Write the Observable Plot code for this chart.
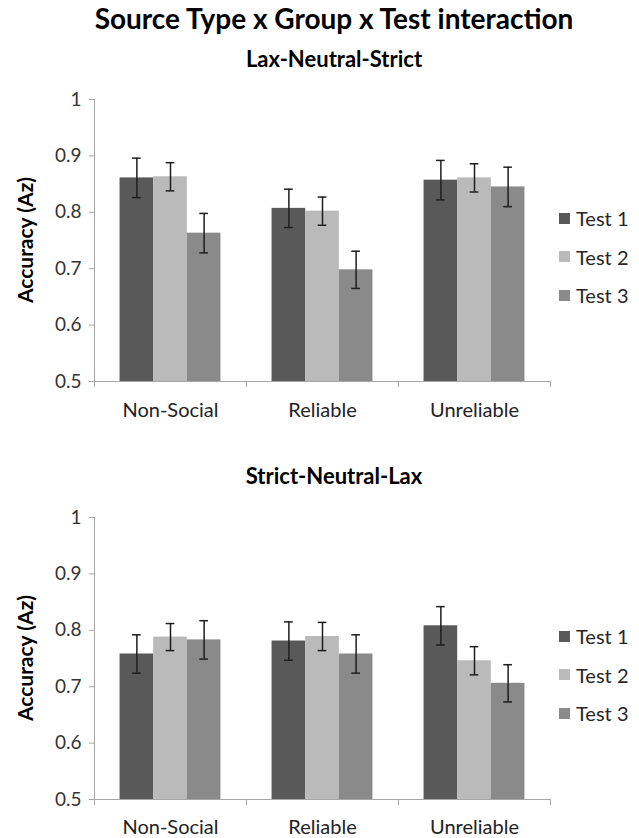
<!DOCTYPE html>
<html>
<head>
<meta charset="utf-8">
<script src="https://cdn.jsdelivr.net/npm/d3@7"></script>
<script src="https://cdn.jsdelivr.net/npm/@observablehq/plot@0.6"></script>
<style>
  body { margin: 0; background: #fff; font-family: Lato, "DejaVu Sans", sans-serif; }
  #root { position: relative; width: 639px; height: 838px; overflow: hidden; background: #fff; }
  .abs { position: absolute; white-space: nowrap; }
  .title { font-weight: bold; font-size: 28px; color: #000; line-height: 1; text-align: center; }
  .sub { font-weight: bold; font-size: 22px; color: #000; line-height: 1; text-align: center; }
  .ylab { font-weight: bold; font-size: 21px; color: #000; line-height: 1; transform: translate(-50%, -50%) rotate(-90deg); }
  .leg { font-size: 20px; color: #262626; line-height: 1; display: flex; align-items: center; }
  .sw { width: 11px; height: 11px; margin-right: 6px; }
  svg { position: absolute; left: 0; }
</style>
</head>
<body>
<div id="root"></div>
<script>
// ---- data ----
const chartTitle = "Source Type x Group x Test interaction";
const panelTitles = ["Lax-Neutral-Strict", "Strict-Neutral-Lax"];
const yLabel = "Accuracy (Az)";
const categories = ["Non-Social", "Reliable", "Unreliable"];
const tests = ["Test 1", "Test 2", "Test 3"];
const testColors = ["#595959", "#bababa", "#8a8a8a"];
const yTicks = [0.5, 0.6, 0.7, 0.8, 0.9, 1];

// rows: categories, columns: tests
const laxNeutralStrictMeans = [
  [0.861, 0.863, 0.763],
  [0.807, 0.802, 0.698],
  [0.857, 0.861, 0.845]
];
const laxNeutralStrictErrors = [
  [0.035, 0.025, 0.035],
  [0.034, 0.025, 0.033],
  [0.035, 0.025, 0.035]
];
const strictNeutralLaxMeans = [
  [0.758, 0.788, 0.783],
  [0.781, 0.789, 0.758],
  [0.808, 0.746, 0.706]
];
const strictNeutralLaxErrors = [
  [0.034, 0.024, 0.034],
  [0.034, 0.025, 0.034],
  [0.034, 0.025, 0.033]
];

// ---- drawing ----
const root = document.getElementById("root");

function addDiv(cls, text, style) {
  const d = document.createElement("div");
  d.className = "abs " + cls;
  d.textContent = text;
  Object.assign(d.style, style);
  root.appendChild(d);
  return d;
}

function makePanel(means, errors, top, title, titleTop, labelPad) {
  const rows = [];
  categories.forEach((c, i) => tests.forEach((t, j) => {
    rows.push({cat: c, test: t, mean: means[i][j], err: errors[i][j]});
  }));
  const yMin = yTicks[0], yMax = yTicks[yTicks.length - 1];
  const axisGray = "#a6a6a6";
  const chart = Plot.plot({
    width: 639,
    height: 345,
    marginTop: 19,
    marginBottom: 44,
    marginLeft: 93,
    marginRight: 89,
    style: {fontFamily: "Lato, sans-serif", background: "transparent", overflow: "visible"},
    fx: {domain: categories, padding: 0, label: null},
    x: {domain: tests, paddingInner: 0, paddingOuter: 0.76, axis: null, round: false},
    y: {domain: [yMin, yMax], label: null},
    color: {domain: tests, range: testColors},
    marks: [
      Plot.barY(rows, {fx: "cat", x: "test", y1: yMin, y2: "mean", fill: "test"}),
      Plot.ruleY([yMin], {stroke: axisGray, strokeWidth: 1}),
      Plot.ruleX(rows, {fx: "cat", x: "test", y1: d => d.mean - d.err, y2: d => d.mean + d.err, stroke: "#1e1e1e", strokeWidth: 1.5}),
      Plot.tickY(rows, {fx: "cat", x: "test", y: d => d.mean - d.err, stroke: "#1e1e1e", strokeWidth: 1.5, insetLeft: 12.5, insetRight: 12.5}),
      Plot.tickY(rows, {fx: "cat", x: "test", y: d => d.mean + d.err, stroke: "#1e1e1e", strokeWidth: 1.5, insetLeft: 12.5, insetRight: 12.5}),
      Plot.axisY({ticks: yTicks, tickFormat: d => d === 1 ? "1" : d.toFixed(1), tickSize: 5, tickPadding: 8, stroke: axisGray, fill: "#333", fontSize: 19, label: null}),
      Plot.axisFx({anchor: "bottom", tickSize: 0, tickPadding: labelPad, fontSize: 20, fill: "#222", label: null})
    ]
  });
  chart.style.top = top + "px";
  root.appendChild(chart);

  // axis lines via the plot's own scales
  const fx = chart.scale("fx");
  const y = chart.scale("y");
  const sel = d3.select(chart);
  const x0 = Math.round(fx.apply(categories[0])) + 0.5;
  sel.append("line")
    .attr("x1", x0).attr("x2", x0)
    .attr("y1", y.apply(yMin)).attr("y2", y.apply(yMax))
    .attr("stroke", axisGray);
  const bounds = categories.map(c => fx.apply(c)).concat([fx.apply(categories[categories.length - 1]) + fx.bandwidth]);
  bounds.forEach(b => {
    const xb = Math.round(b) + 0.5;
    sel.append("line")
      .attr("x1", xb).attr("x2", xb)
      .attr("y1", y.apply(yMin)).attr("y2", y.apply(yMin) + 6)
      .attr("stroke", axisGray);
  });

  // subtitle
  addDiv("sub", title, {left: "0px", width: "668px", top: titleTop + "px"});
  // y label
  addDiv("ylab", yLabel, {left: "24px", top: (top + (y.apply(yMin) + y.apply(yMax)) / 2) + "px"});
  // legend
  const legTop = top + 138;
  tests.forEach((t, j) => {
    const d = document.createElement("div");
    d.className = "abs leg";
    d.style.left = "559px";
    d.style.top = (legTop + j * 38.7 - 10) + "px";
    d.style.height = "20px";
    const sw = document.createElement("div");
    sw.className = "sw";
    sw.style.background = testColors[j];
    const tx = document.createElement("span");
    tx.textContent = t;
    d.appendChild(sw);
    d.appendChild(tx);
    root.appendChild(d);
  });
}

addDiv("title", chartTitle, {left: "0px", width: "668px", top: "4px"});
makePanel(laxNeutralStrictMeans, laxNeutralStrictErrors, 80, panelTitles[0], 48, 21);
makePanel(strictNeutralLaxMeans, strictNeutralLaxErrors, 498, panelTitles[1], 465, 20);
</script>
</body>
</html>
